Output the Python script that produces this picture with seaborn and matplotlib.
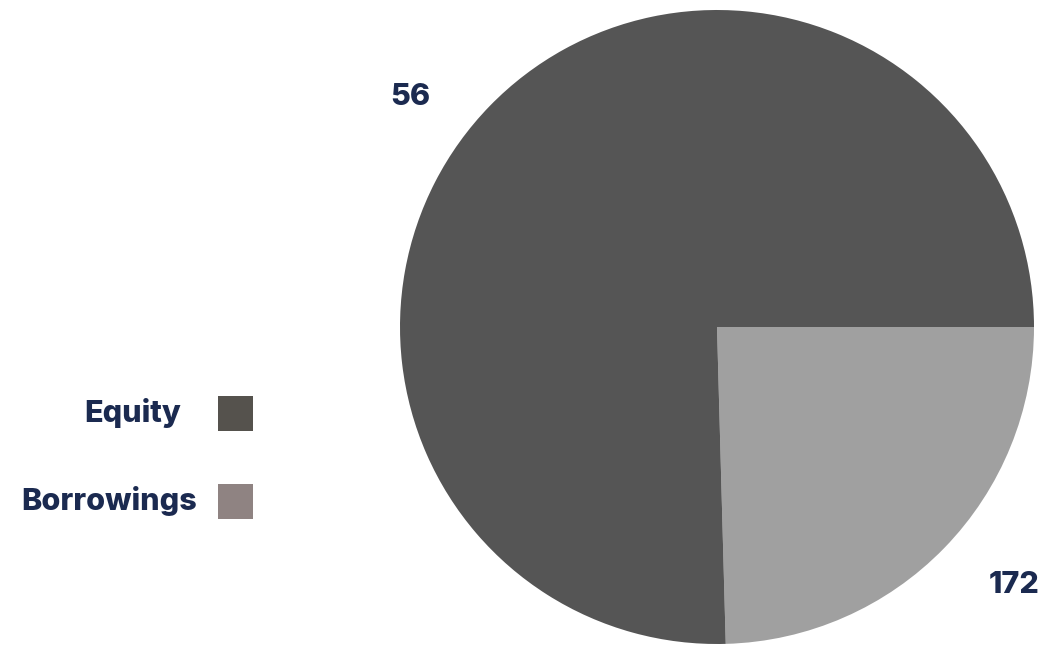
import matplotlib
matplotlib.use("Agg")
import matplotlib.pyplot as plt
from matplotlib.patches import Rectangle
import seaborn as sns

# Capital structure data
slice_values = [56, 172]            # Borrowings-side slice, Equity-side slice
slice_colors = ["#a0a0a0", "#555555"]
value_labels = ["56", "172"]
legend_names = ["Equity", "Borrowings"]
legend_colors = ["#55524d", "#8f8382"]

TEXT_COLOR = "#1b2a50"
FONT_SIZE = 22
FONT_WEIGHT = 800

sns.set_theme(style="white")
plt.rcParams["font.family"] = ["Inter", "DejaVu Sans"]

W, H = 1042, 645
fig = plt.figure(figsize=(W / 100, H / 100), dpi=100)
fig.patch.set_facecolor("white")

# Square axes holding the pie
ax = fig.add_axes([400 / W, 1 / H, 634 / W, 634 / H])
ax.pie(slice_values, colors=slice_colors, startangle=0, counterclock=False,
       radius=1.0, wedgeprops=dict(linewidth=0))
ax.set_xlim(-1, 1)
ax.set_ylim(-1, 1)
ax.set_aspect("equal")
ax.axis("off")

# Value labels outside the pie
label_pos = [(-0.968, 0.726), (0.938, -0.814)]
for txt, (x, y) in zip(value_labels, label_pos):
    ax.text(x, y, txt, ha="center", va="center", fontsize=FONT_SIZE,
            fontweight=FONT_WEIGHT, color=TEXT_COLOR, clip_on=False)

# Legend: name on the left, colour swatch on the right
legend_rows = [(413, 181), (501, 197)]   # (centre y from top, text right edge)
for name, color, (cy, right) in zip(legend_names, legend_colors, legend_rows):
    fig.text(right / W, 1 - cy / H, name, ha="right", va="center",
             fontsize=FONT_SIZE, fontweight=FONT_WEIGHT, color=TEXT_COLOR)
    fig.add_artist(Rectangle((218 / W, 1 - (cy + 18) / H), 35 / W, 35 / H,
                             transform=fig.transFigure, facecolor=color,
                             edgecolor="none"))

fig.savefig("out.png", dpi=100, facecolor="white")
